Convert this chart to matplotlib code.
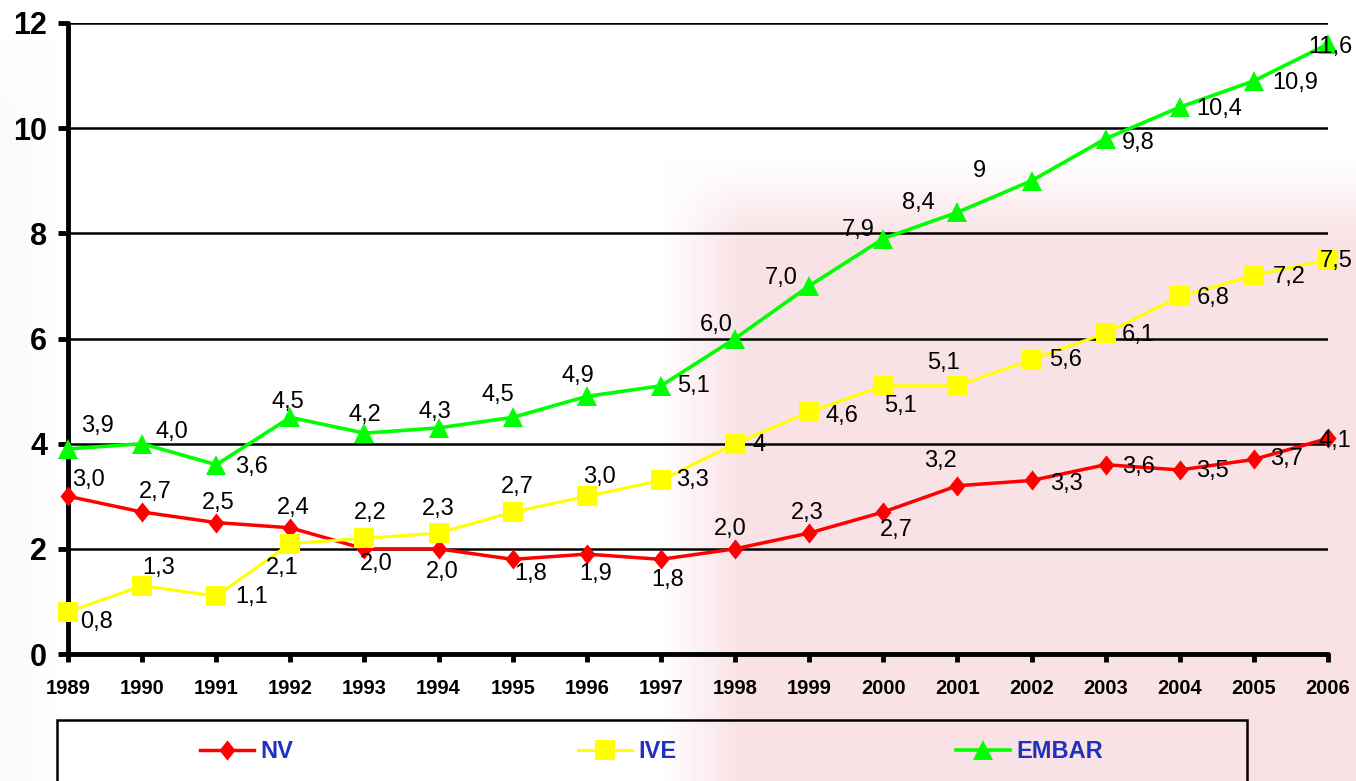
import numpy as np
import matplotlib
matplotlib.use("Agg")
import matplotlib.pyplot as plt
from matplotlib.patches import Rectangle

plt.rcParams['font.family'] = ['Liberation Sans', 'DejaVu Sans']

# series
years = list(range(1989, 2007))
nv = [3.0, 2.7, 2.5, 2.4, 2.0, 2.0, 1.8, 1.9, 1.8, 2.0, 2.3, 2.7, 3.2, 3.3, 3.6, 3.5, 3.7, 4.1]
ive = [0.8, 1.3, 1.1, 2.1, 2.2, 2.3, 2.7, 3.0, 3.3, 4.0, 4.6, 5.1, 5.1, 5.6, 6.1, 6.8, 7.2, 7.5]
embar = [3.9, 4.0, 3.6, 4.5, 4.2, 4.3, 4.5, 4.9, 5.1, 6.0, 7.0, 7.9, 8.4, 9.0, 9.8, 10.4, 10.9, 11.6]
names = ['NV', 'IVE', 'EMBAR']

# points whose value label is written without decimals
ive_bare = [9]
embar_bare = [13]

# label offsets (pixels, right / down) for each point
nv_off = [(20, -16), (13, -20), (2, -20), (3, -20), (12, 15), (4, 23), (18, 15), (9, 20), (7, 21),
          (-5, -20), (-2, -20), (13, 18), (-17, -25), (35, 4), (33, 2), (33, 1), (33, 0), (7, 3)]
ive_off = [(29, 10), (17, -18), (35, 1), (-8, 24), (6, -25), (0, -24), (5, -25), (13, -19), (32, 0),
           (24, 1), (33, 4), (17, 20), (-14, -23), (34, 0), (33, 2), (33, 2), (35, 2), (8, 1)]
embar_off = [(29, -23), (30, -12), (35, 2), (-2, -15), (0, -18), (-4, -16), (-15, -22), (-9, -20), (33, 0),
             (-19, -13), (-28, -8), (-25, -9), (-39, -9), (-52, -10), (33, 4), (39, 2), (41, 2), (2, 3)]


def fmt(v, bare):
    if bare:
        return f"{v:g}"
    return f"{v:.1f}".replace('.', ',')


W, H = 1356, 781
fig = plt.figure(figsize=(W / 100, H / 100), dpi=100)

# faint watermark behind the chart
bg = fig.add_axes([0, 0, 1, 1], zorder=0)
yy, xx = np.mgrid[0:H, 0:W]
ramp_x = np.clip((xx - 660) / 80.0, 0, 1)
ramp_y = np.clip((yy - 160) / 80.0, 0, 1)
pink_a = 0.38 * ramp_x * ramp_y
grey_a = 0.10 * np.clip((60 - xx) / 60.0, 0, 1) * np.clip((yy - 40) / 100.0, 0, 1)
img = np.ones((H, W, 3))
pink = np.array([240, 180, 190]) / 255.0
grey = np.array([200, 200, 200]) / 255.0
img = img * (1 - pink_a[..., None]) + pink * pink_a[..., None]
img = img * (1 - grey_a[..., None]) + grey * grey_a[..., None]
bg.imshow(img, aspect='auto', extent=(0, W, H, 0))
bg.axis('off')

ax = fig.add_axes([68 / W, 127 / H, 1260 / W, 631 / H], zorder=1)
ax.patch.set_alpha(0)

diamond = [(0, 1), (0.8, 0), (0, -1), (-0.8, 0), (0, 1)]
styles = [
    dict(color='#ff0000', marker=diamond, markersize=14.5, lw=2.5),
    dict(color='#ffff00', marker='s', markersize=14.5, lw=2.2),
    dict(color='#00ff00', marker='^', markersize=14, lw=2.6),
]
handles = []
for vals, name, st, z in zip([nv, ive, embar], names, styles, [3, 4, 5]):
    ln, = ax.plot(years, vals, color=st['color'], lw=st['lw'], marker=st['marker'],
                  markersize=st['markersize'], markeredgewidth=0, label=name,
                  clip_on=False, zorder=z)
    handles.append(ln)

series = [(nv, nv_off, []), (ive, ive_off, ive_bare), (embar, embar_off, embar_bare)]
for vals, offs, bare in series:
    for i, (yr, v) in enumerate(zip(years, vals)):
        dx, dy = offs[i]
        ax.annotate(fmt(v, i in bare), (yr, v), xytext=(dx, -dy), textcoords='offset pixels',
                    ha='center', va='center', fontsize=17, color='black', zorder=6,
                    annotation_clip=False)

ax.set_xlim(1989, 2006)
ax.set_ylim(0, 12)
ax.set_xticks(years)
ax.set_yticks(range(0, 13, 2))
ax.set_yticklabels([str(t) for t in range(0, 13, 2)], fontsize=22, fontweight='bold')
ax.set_xticklabels([str(y) for y in years], fontsize=14.5, fontweight='bold')
ax.tick_params(axis='y', length=7, width=3.5, pad=8)
ax.tick_params(axis='x', length=6, width=3.5, pad=12)

for s in ['top', 'right']:
    ax.spines[s].set_visible(False)
for s in ['left', 'bottom']:
    ax.spines[s].set_linewidth(3.5)
    ax.spines[s].set_capstyle('round')
ax.set_axisbelow(True)
ax.yaxis.grid(True, color='black', lw=1.8)
ax.xaxis.grid(False)

# legend frame running off the bottom edge
fig.add_artist(Rectangle((57 / W, -0.05), (1247 - 57) / W, (781 - 720) / H + 0.05,
                         transform=fig.transFigure, fill=False, ec='black', lw=1.8, zorder=2))

leg_x = [200, 578, 956]
for h, x in zip(handles, leg_x):
    leg = fig.legend(handles=[h], loc='center left', bbox_to_anchor=(x / W, (H - 752) / H),
                     frameon=False, borderpad=0, borderaxespad=0, handlelength=2.3,
                     handletextpad=0.25,
                     prop={'weight': 'bold', 'size': 17})
    for t in leg.get_texts():
        t.set_color('#2030bf')

fig.savefig('out.png', dpi=100)
